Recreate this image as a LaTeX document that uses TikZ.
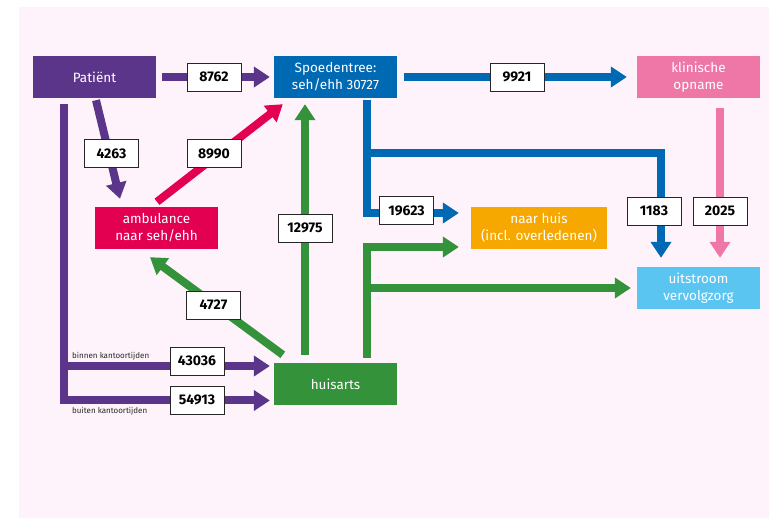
\documentclass[tikz,border=0pt]{standalone}
\usepackage{fontspec}
\setmainfont{Fira Sans}
\usetikzlibrary{arrows.meta,calc}
\definecolor{cpurple}{HTML}{5B3589}
\definecolor{cblue}{HTML}{0069B4}
\definecolor{cred}{HTML}{E30050}
\definecolor{cpink}{HTML}{EE77A8}
\definecolor{cgreen}{HTML}{34923A}
\definecolor{corange}{HTML}{F6A800}
\definecolor{clblue}{HTML}{5BC5F2}
\definecolor{cbg}{HTML}{FEF3FA}
\tikzset{
  box/.style={minimum width=123pt, minimum height=42pt, inner sep=0pt, align=center,
    text=white, font=\fontsize{13.5}{17}\selectfont},
  lbl/.style={draw=black!85, line width=0.8pt, fill=white, minimum width=54pt,
    minimum height=28pt, inner sep=0pt, font=\bfseries\fontsize{14}{16}\selectfont},
  arr/.style={line width=8pt, line join=miter, -{Triangle[width=20pt,length=16pt]}},
  smalltxt/.style={anchor=west, inner sep=0pt, text=black!85, font=\fontsize{8}{9}\selectfont}
}
\begin{document}
\begin{tikzpicture}[x=1pt,y=-1pt]
\useasboundingbox (0,0) rectangle (769,518);
\fill[cbg] (19,7) rectangle (769,518);
% nodes
\node[box, fill=cpurple] (pat) at (94.5,77) {Patiënt};
\node[box, fill=cblue] (spo) at (335.5,77) {Spoedentree:\\seh/ehh 30727};
\node[box, fill=cpink] (klin) at (698.5,77) {klinische\\opname};
\node[box, fill=cred] (amb) at (156.5,228) {ambulance\\naar seh/ehh};
\node[box, fill=corange, minimum width=136pt] (nh) at (539,228) {naar huis\\(incl. overledenen)};
\node[box, fill=clblue] (uit) at (698.5,288) {uitstroom\\vervolgzorg};
\node[box, fill=cgreen] (ha) at (335.5,384) {huisarts};
% junction coordinates
\coordinate (pj) at (64.5,366);
\coordinate (bj) at (367,153.5);
\coordinate (gj) at (367,288);
% purple
\draw[arr, cpurple] ($(pat.east)+(6,0)$) -- ($(spo.west)+(-4,0)$);
\draw[arr, cpurple] ($(pat.south)+(1.5,2)$) -- ($(amb.north)+(-36.5,-8)$);
\draw[arr, cpurple] ($(pat.south west)+(31.5,6)$) |- ($(ha.west)+(-4,16.5)$);
\draw[arr, cpurple] (pj) -- ($(ha.west)+(-4,-18)$);
% red
\draw[arr, cred] ($(amb.north)+(0.5,-5)$) -- ($(spo.south west)+(9,6)$);
% blue
\draw[arr, cblue] ($(spo.east)+(7,0)$) -- ($(klin.west)+(-10,0)$);
\draw[arr, cblue] ($(spo.south)+(31.5,2)$) |- ($(nh.west)+(-12,-15)$);
\draw[arr, cblue] (bj) -| ($(uit.north)+(-37.5,-9)$);
% pink
\draw[arr, cpink] ($(klin.south)+(21.5,10)$) -- ($(uit.north)+(21.5,-9)$);
% green
\draw[arr, cgreen] ($(ha.north)+(-30.5,-8)$) -- ($(spo.south)+(-30.5,6)$);
\draw[arr, cgreen] ($(ha.north west)+(9,-8)$) -- ($(amb.south)+(-6.5,8)$);
\draw[arr, cgreen] ($(ha.north)+(31.5,-5)$) |- ($(nh.west)+(-12,19)$);
\draw[arr, cgreen] (gj) -- ($(uit.west)+(-6,0)$);
% labels
\node[lbl] (l1) at (214,77) {8762};
\node[lbl] (l2) at (517,77) {9921};
\node[lbl] (l3) at (111.5,153.5) {4263};
\node[lbl] (l4) at (214,153.5) {8990};
\node[lbl] (l5) at (305,228) {12975};
\node[lbl] (l6) at (213.5,305) {4727};
\node[lbl] (l7) at (197,361) {43036};
\node[lbl] (l8) at (197,400) {54913};
\node[lbl] (l9) at (406.5,210.5) {19623};
\node[lbl] (l10) at (654,211) {1183};
\node[lbl] (l11) at (720,211) {2025};
\node[smalltxt] (t1) at (72,356) {binnen kantoortijden};
\node[smalltxt] (t2) at (72,411) {buiten kantoortijden};
\end{tikzpicture}
\end{document}
